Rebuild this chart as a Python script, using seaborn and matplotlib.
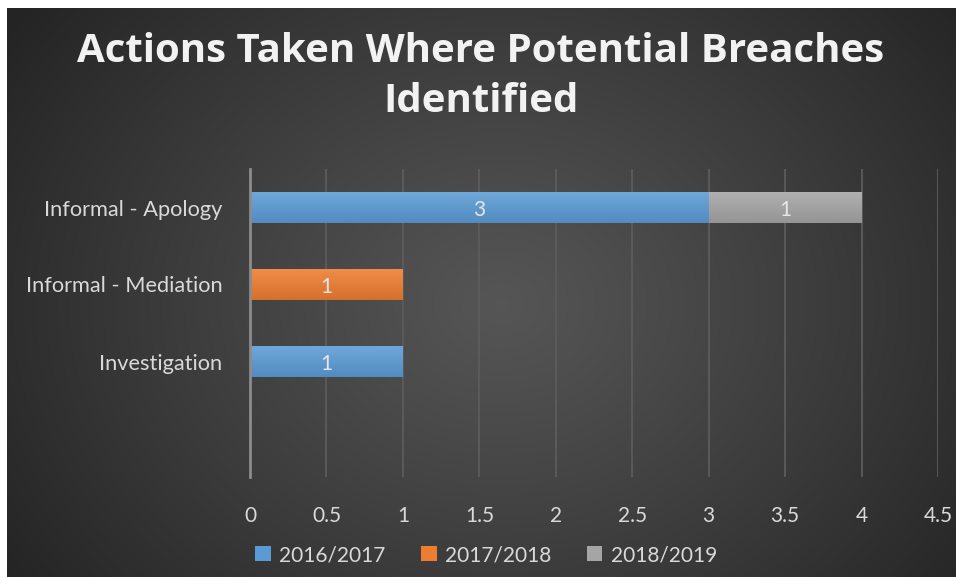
import numpy as np
import pandas as pd
import matplotlib
matplotlib.use("Agg")
import matplotlib.pyplot as plt
import matplotlib.colors as mcolors
from matplotlib.patches import Patch
import seaborn as sns

# ---- data ----
categories = ["Informal - Apology", "Informal - Mediation", "Investigation"]
series_names = ["2016/2017", "2017/2018", "2018/2019"]
v2016_2017 = [3, 0, 1]
v2017_2018 = [0, 1, 0]
v2018_2019 = [1, 0, 0]
x_ticks = [0, 0.5, 1, 1.5, 2, 2.5, 3, 3.5, 4, 4.5]
title_lines = ["Actions Taken Where Potential Breaches", "Identified"]

colors = ["#5b9bd5", "#ed7d31", "#a5a5a5"]
text_color = "#d9d9d9"

df = pd.DataFrame({"category": categories,
                   series_names[0]: v2016_2017,
                   series_names[1]: v2017_2018,
                   series_names[2]: v2018_2019})
cum = df[series_names].cumsum(axis=1)

sns.set_theme(style="dark")
plt.rcParams["font.family"] = ["Lato", "DejaVu Sans"]

W, H = 956, 578
fig = plt.figure(figsize=(W / 100, H / 100), dpi=100, facecolor="white")

# ---- background radial gradient ----
bg = fig.add_axes([7 / W, 1 / H, 949 / W, 569 / H])
bh, bw = 569, 949
yy, xx = np.mgrid[0:bh, 0:bw]
cx, cy = 0.52 * bw, 0.52 * bh
r = np.sqrt(((xx - cx) / (0.62 * bw)) ** 2 + ((yy - cy) / (0.85 * bh)) ** 2)
r = np.clip(r, 0, 1)
val = 0.335 - 0.19 * r ** 1.1
img = np.dstack([val, val, val])
bg.imshow(img, aspect="auto", extent=(0, 1, 0, 1), interpolation="bilinear")
bg.set_axis_off()
bg.set_zorder(-10)

# ---- main axes ----
ax = fig.add_axes([250 / W, 1 - 477 / H, 688 / W, 308 / H])
ax.set_facecolor("none")

for i in reversed(range(len(series_names))):
    sns.barplot(x=cum[series_names[i]].values, y=df["category"].values,
                order=categories, color=colors[i], saturation=1,
                width=0.4, orient="h", ax=ax, linewidth=0)

# gradient overlay for bars
def shade(c, f):
    rgb = np.array(mcolors.to_rgb(c))
    if f > 0:
        return rgb + (1 - rgb) * f
    return rgb * (1 + f)

for p in list(ax.patches):
    wdt = p.get_width()
    if wdt <= 0:
        continue
    fc = p.get_facecolor()[:3]
    top = shade(fc, 0.12)
    bot = shade(fc, -0.10)
    t = np.linspace(0, 1, 50)[:, None]
    grad = top[None, :] * (1 - t) + bot[None, :] * t
    grad = np.repeat(grad[:, None, :], 2, axis=1)
    x0, y0, hh = p.get_x(), p.get_y(), p.get_height()
    im = ax.imshow(grad, extent=(x0, x0 + wdt, y0 + hh, y0), aspect="auto",
                   interpolation="bilinear", zorder=p.get_zorder() + 0.1)
    im.set_clip_path(p)

# data labels
for j, cat in enumerate(categories):
    prev = 0
    for s in series_names:
        v = df.loc[j, s]
        if v > 0:
            ax.text(prev + v / 2, j + 0.03, f"{v:g}", ha="center", va="center",
                    color="#e6e6e6", fontsize=15, zorder=10)
        prev += v

ax.set_xlim(0, 4.5)
ax.set_ylim(3.5, -0.5)
ax.set_xticks(x_ticks)
ax.set_xticklabels([f"{t:g}" for t in x_ticks])
ax.set_xlabel("")
ax.set_ylabel("")
ax.set_axisbelow(True)
ax.grid(axis="x", color="#5c5c5c", linewidth=1.3)
ax.grid(axis="y", visible=False)
for s in ["top", "right", "bottom"]:
    ax.spines[s].set_visible(False)
ax.spines["left"].set_color("#8c8c8c")
ax.spines["left"].set_linewidth(2)
ax.tick_params(axis="x", length=0, pad=21, labelsize=15, labelcolor=text_color)
ax.tick_params(axis="y", length=0, pad=20, labelsize=15.7, labelcolor=text_color)

# ---- title ----
for k, yy_px in enumerate([51, 101]):
    fig.text(481 / W, 1 - yy_px / H, title_lines[k], ha="center", va="center",
             fontsize=29, fontweight="bold", color="#f2f2f2",
             family=["Open Sans", "DejaVu Sans"])

# ---- legend ----
handles = [Patch(facecolor=c, edgecolor="none") for c in colors]
fig.legend(handles, series_names, loc="center", bbox_to_anchor=(486 / W, 1 - 555 / H),
           ncol=3, frameon=False, handlelength=0.75, handleheight=0.75,
           handletextpad=0.4, columnspacing=1.7, fontsize=15, labelcolor=text_color)

fig.savefig("out.png", dpi=100, facecolor="white")
